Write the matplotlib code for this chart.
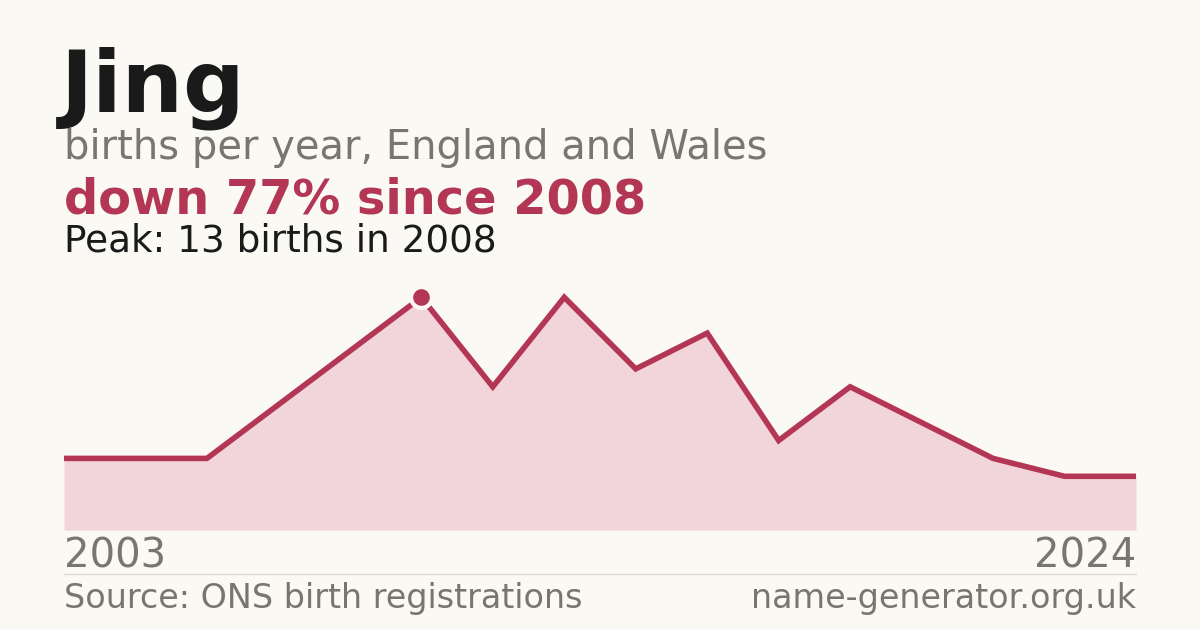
import matplotlib
matplotlib.use("Agg")
import matplotlib.pyplot as plt
import numpy as np

# data
years = [2003, 2004, 2005, 2006, 2007, 2008, 2009, 2010, 2011, 2012,
         2013, 2014, 2015, 2016, 2017, 2024]
births = [4, 4, 4, 7, 10, 13, 8, 13, 9, 11, 5, 8, 6, 4, 3, 3]
peak_year = 2008
peak_value = 13

name = "Jing"
subtitle = "births per year, England and Wales"
headline = "down 77% since 2008"
peak_text = "Peak: 13 births in 2008"
source = "Source: ONS birth registrations"
site = "name-generator.org.uk"

BG = "#faf9f4"
RED = "#b33654"
FILL = "#f2d5da"
GREY = "#7a756e"
DARK = "#1a1a1a"

W, H = 1200, 630
fig = plt.figure(figsize=(12, 6.3), dpi=100, facecolor=BG)

def fx(px):
    return px / W

def fy(py):
    return 1 - py / H

# plot area: x 64..1136, y 270..530 px
ax = fig.add_axes([fx(64), fy(530), fx(1136 - 64), (530 - 270) / H])
ax.set_facecolor(BG)
x = np.arange(len(years))
ax.fill_between(x, births, 0, color=FILL, linewidth=0)
ax.plot(x, births, color=RED, linewidth=4.0, solid_joinstyle="miter")
pi = years.index(peak_year)
ax.plot([x[pi]], [peak_value], marker="o", markersize=15, color=RED,
        markeredgecolor=BG, markeredgewidth=3, zorder=5)
ax.set_xlim(0, len(years) - 1)
ax.set_ylim(0, 260 / 17.9)
ax.axis("off")

fig.text(fx(61), fy(112), name, fontsize=62, fontweight="bold", color=DARK, va="baseline")
fig.text(fx(64), fy(159), subtitle, fontsize=28.8, color=GREY, va="baseline")
fig.text(fx(64), fy(213), headline, fontsize=34.5, fontweight="bold", color=RED, va="baseline")
fig.text(fx(64), fy(252), peak_text, fontsize=26.9, color=DARK, va="baseline")

fig.text(fx(64), fy(568), str(years[0]), fontsize=28.9, color=GREY, va="baseline")
fig.text(fx(1136), fy(568), str(years[-1]), fontsize=28.9, color=GREY, va="baseline", ha="right")

fig.add_artist(plt.Line2D([fx(64), fx(1136)], [fy(574), fy(574)], color="#dcd8d0", linewidth=1))

fig.text(fx(64), fy(608), source, fontsize=24, color=GREY, va="baseline")
fig.text(fx(1136), fy(608), site, fontsize=24, color=GREY, va="baseline", ha="right")

fig.savefig("out.png", dpi=100, facecolor=BG)
